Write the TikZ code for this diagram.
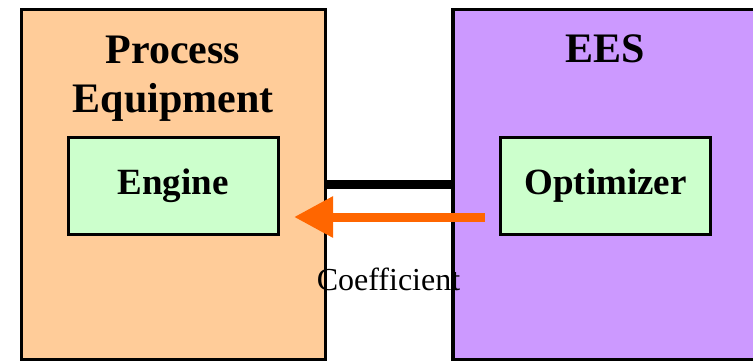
\documentclass[tikz,border=0pt]{standalone}
\usepackage{fontspec}
\setmainfont{Liberation Serif}
\usetikzlibrary{arrows.meta}
\definecolor{peach}{HTML}{FFCC99}
\definecolor{lilac}{HTML}{CC99FF}
\definecolor{mint}{HTML}{CCFFCC}
\definecolor{arroworange}{HTML}{FF6600}
\tikzset{
  innerbox/.style={draw=black, line width=3pt, fill=mint, minimum width=210pt, minimum height=97pt, inner sep=0pt,
    font=\fontsize{37}{40}\selectfont\bfseries},
  titletext/.style={font=\fontsize{42}{50}\selectfont\bfseries, align=center, inner sep=0pt},
}
\begin{document}
\begin{tikzpicture}[x=1pt,y=-1pt]
\useasboundingbox (0,0) rectangle (753,361);
\begin{scope}
\clip (0,0) rectangle (753,361);
\path[fill=peach, draw=black, line width=3.5pt] (21.5,9.5) rectangle (325.5,360);
\path[fill=lilac, draw=black, line width=3.5pt] (453,9.5) rectangle (765,360);
\end{scope}
\node[titletext, anchor=base] (pe) at (173,113) {Process\\Equipment};
\node[titletext, anchor=base] (ees) at (605,63) {EES};
\node[innerbox] (engine) at (173,185.5) {Engine};
\node[innerbox] (opt) at (605.5,185.5) {Optimizer};
\coordinate (lin) at (325.5,184.5);
\coordinate (rin) at (453,184.5);
\draw[line width=9.5pt] (lin) -- (rin);
\coordinate (as) at (485,217);
\coordinate (ae) at (294,217);
\draw[arroworange, line width=9pt, -{Triangle[length=39pt, width=39pt]}] (as) -- (ae);
\node[anchor=base, inner sep=0pt, font=\fontsize{32}{36}\selectfont] (coef) at (388.5,290) {Coefficient};
\end{tikzpicture}
\end{document}
